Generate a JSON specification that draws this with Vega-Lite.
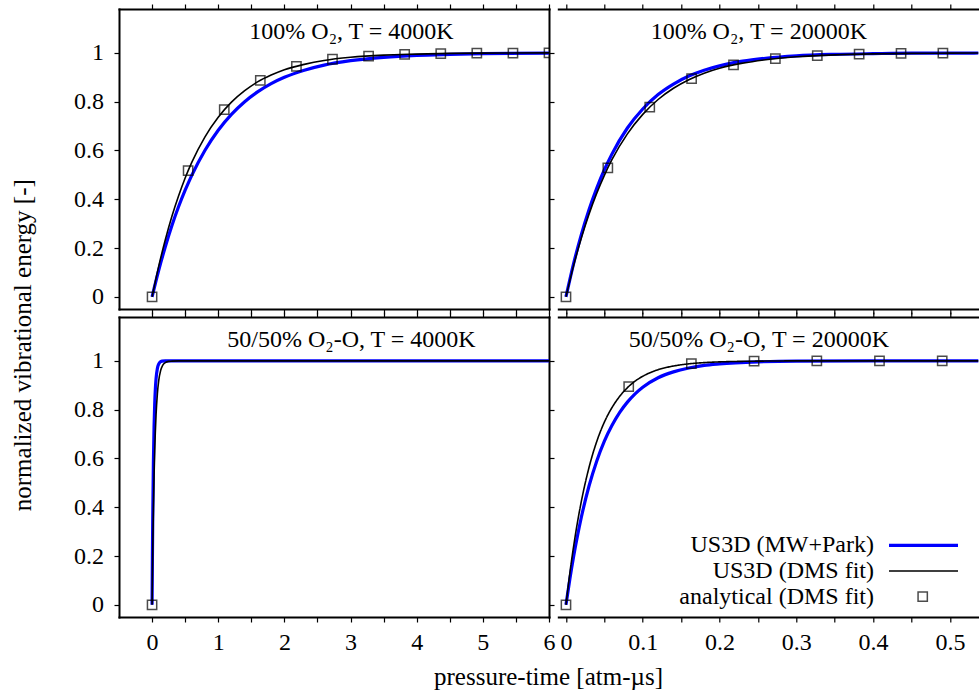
{
  "$schema": "https://vega.github.io/schema/vega-lite/v6.json",
  "background": "white",
  "padding": {"left": 10, "top": 3, "right": 0, "bottom": 0},
  "autosize": {"type": "pad"},
  "config": {
    "font": "Liberation Serif",
    "view": {"stroke": null},
    "axis": {
      "grid": false,
      "domainColor": "black",
      "domainWidth": 2,
      "domainCap": "square",
      "tickColor": "black",
      "tickWidth": 1.2,
      "tickSize": 5,
      "labelFont": "Liberation Serif",
      "labelFontSize": 24,
      "labelColor": "black",
      "labelFlush": false,
      "labelOverlap": false,
      "titleFont": "Liberation Serif",
      "titleFontSize": 25,
      "titleFontWeight": "normal",
      "titleColor": "black"
    },
    "legend": {"labelFont": "Liberation Serif", "labelFontSize": 24, "labelColor": "black", "labelLimit": 400, "padding": 0, "title": null}
  },
  "datasets": {
    "curves": [
      {"panel": "a", "series": "US3D (MW+Park)", "t": 0, "e": 0},
      {"panel": "a", "series": "US3D (MW+Park)", "t": 0.1, "e": 0.109},
      {"panel": "a", "series": "US3D (MW+Park)", "t": 0.2, "e": 0.205},
      {"panel": "a", "series": "US3D (MW+Park)", "t": 0.3, "e": 0.292},
      {"panel": "a", "series": "US3D (MW+Park)", "t": 0.4, "e": 0.369},
      {"panel": "a", "series": "US3D (MW+Park)", "t": 0.5, "e": 0.437},
      {"panel": "a", "series": "US3D (MW+Park)", "t": 0.6, "e": 0.498},
      {"panel": "a", "series": "US3D (MW+Park)", "t": 0.8, "e": 0.601},
      {"panel": "a", "series": "US3D (MW+Park)", "t": 1.0, "e": 0.683},
      {"panel": "a", "series": "US3D (MW+Park)", "t": 1.2, "e": 0.748},
      {"panel": "a", "series": "US3D (MW+Park)", "t": 1.4, "e": 0.800},
      {"panel": "a", "series": "US3D (MW+Park)", "t": 1.6, "e": 0.841},
      {"panel": "a", "series": "US3D (MW+Park)", "t": 1.8, "e": 0.874},
      {"panel": "a", "series": "US3D (MW+Park)", "t": 2.0, "e": 0.900},
      {"panel": "a", "series": "US3D (MW+Park)", "t": 2.3, "e": 0.929},
      {"panel": "a", "series": "US3D (MW+Park)", "t": 2.6, "e": 0.950},
      {"panel": "a", "series": "US3D (MW+Park)", "t": 3.0, "e": 0.968},
      {"panel": "a", "series": "US3D (MW+Park)", "t": 3.5, "e": 0.982},
      {"panel": "a", "series": "US3D (MW+Park)", "t": 4.0, "e": 0.990},
      {"panel": "a", "series": "US3D (MW+Park)", "t": 4.5, "e": 0.994},
      {"panel": "a", "series": "US3D (MW+Park)", "t": 5.0, "e": 0.997},
      {"panel": "a", "series": "US3D (MW+Park)", "t": 6.0, "e": 0.999},
      {"panel": "a", "series": "US3D (DMS fit)", "t": 0, "e": 0},
      {"panel": "a", "series": "US3D (DMS fit)", "t": 0.1, "e": 0.125},
      {"panel": "a", "series": "US3D (DMS fit)", "t": 0.2, "e": 0.234},
      {"panel": "a", "series": "US3D (DMS fit)", "t": 0.3, "e": 0.330},
      {"panel": "a", "series": "US3D (DMS fit)", "t": 0.4, "e": 0.413},
      {"panel": "a", "series": "US3D (DMS fit)", "t": 0.5, "e": 0.487},
      {"panel": "a", "series": "US3D (DMS fit)", "t": 0.6, "e": 0.551},
      {"panel": "a", "series": "US3D (DMS fit)", "t": 0.8, "e": 0.656},
      {"panel": "a", "series": "US3D (DMS fit)", "t": 1.0, "e": 0.736},
      {"panel": "a", "series": "US3D (DMS fit)", "t": 1.2, "e": 0.798},
      {"panel": "a", "series": "US3D (DMS fit)", "t": 1.4, "e": 0.845},
      {"panel": "a", "series": "US3D (DMS fit)", "t": 1.6, "e": 0.882},
      {"panel": "a", "series": "US3D (DMS fit)", "t": 1.8, "e": 0.909},
      {"panel": "a", "series": "US3D (DMS fit)", "t": 2.0, "e": 0.931},
      {"panel": "a", "series": "US3D (DMS fit)", "t": 2.3, "e": 0.953},
      {"panel": "a", "series": "US3D (DMS fit)", "t": 2.6, "e": 0.969},
      {"panel": "a", "series": "US3D (DMS fit)", "t": 3.0, "e": 0.982},
      {"panel": "a", "series": "US3D (DMS fit)", "t": 3.5, "e": 0.991},
      {"panel": "a", "series": "US3D (DMS fit)", "t": 4.0, "e": 0.995},
      {"panel": "a", "series": "US3D (DMS fit)", "t": 4.5, "e": 0.998},
      {"panel": "a", "series": "US3D (DMS fit)", "t": 5.0, "e": 0.999},
      {"panel": "a", "series": "US3D (DMS fit)", "t": 6.0, "e": 1.000},
      {"panel": "a", "series": "analytical (DMS fit)", "t": 0, "e": 0},
      {"panel": "a", "series": "analytical (DMS fit)", "t": 0.545, "e": 0.517},
      {"panel": "a", "series": "analytical (DMS fit)", "t": 1.091, "e": 0.767},
      {"panel": "a", "series": "analytical (DMS fit)", "t": 1.636, "e": 0.887},
      {"panel": "a", "series": "analytical (DMS fit)", "t": 2.182, "e": 0.945},
      {"panel": "a", "series": "analytical (DMS fit)", "t": 2.727, "e": 0.974},
      {"panel": "a", "series": "analytical (DMS fit)", "t": 3.273, "e": 0.987},
      {"panel": "a", "series": "analytical (DMS fit)", "t": 3.818, "e": 0.994},
      {"panel": "a", "series": "analytical (DMS fit)", "t": 4.364, "e": 0.997},
      {"panel": "a", "series": "analytical (DMS fit)", "t": 4.909, "e": 0.999},
      {"panel": "a", "series": "analytical (DMS fit)", "t": 5.455, "e": 0.999},
      {"panel": "a", "series": "analytical (DMS fit)", "t": 6.0, "e": 1.000},

      {"panel": "b", "series": "US3D (MW+Park)", "t": 0, "e": 0},
      {"panel": "b", "series": "US3D (MW+Park)", "t": 0.01, "e": 0.137},
      {"panel": "b", "series": "US3D (MW+Park)", "t": 0.02, "e": 0.255},
      {"panel": "b", "series": "US3D (MW+Park)", "t": 0.03, "e": 0.357},
      {"panel": "b", "series": "US3D (MW+Park)", "t": 0.04, "e": 0.445},
      {"panel": "b", "series": "US3D (MW+Park)", "t": 0.05, "e": 0.521},
      {"panel": "b", "series": "US3D (MW+Park)", "t": 0.06, "e": 0.586},
      {"panel": "b", "series": "US3D (MW+Park)", "t": 0.08, "e": 0.692},
      {"panel": "b", "series": "US3D (MW+Park)", "t": 0.10, "e": 0.770},
      {"panel": "b", "series": "US3D (MW+Park)", "t": 0.12, "e": 0.829},
      {"panel": "b", "series": "US3D (MW+Park)", "t": 0.14, "e": 0.872},
      {"panel": "b", "series": "US3D (MW+Park)", "t": 0.16, "e": 0.905},
      {"panel": "b", "series": "US3D (MW+Park)", "t": 0.18, "e": 0.929},
      {"panel": "b", "series": "US3D (MW+Park)", "t": 0.20, "e": 0.947},
      {"panel": "b", "series": "US3D (MW+Park)", "t": 0.23, "e": 0.966},
      {"panel": "b", "series": "US3D (MW+Park)", "t": 0.26, "e": 0.978},
      {"panel": "b", "series": "US3D (MW+Park)", "t": 0.30, "e": 0.988},
      {"panel": "b", "series": "US3D (MW+Park)", "t": 0.35, "e": 0.994},
      {"panel": "b", "series": "US3D (MW+Park)", "t": 0.40, "e": 0.997},
      {"panel": "b", "series": "US3D (MW+Park)", "t": 0.45, "e": 0.999},
      {"panel": "b", "series": "US3D (MW+Park)", "t": 0.50, "e": 0.999},
      {"panel": "b", "series": "US3D (MW+Park)", "t": 0.55, "e": 1.000},
      {"panel": "b", "series": "US3D (DMS fit)", "t": 0, "e": 0},
      {"panel": "b", "series": "US3D (DMS fit)", "t": 0.01, "e": 0.129},
      {"panel": "b", "series": "US3D (DMS fit)", "t": 0.02, "e": 0.241},
      {"panel": "b", "series": "US3D (DMS fit)", "t": 0.03, "e": 0.339},
      {"panel": "b", "series": "US3D (DMS fit)", "t": 0.04, "e": 0.424},
      {"panel": "b", "series": "US3D (DMS fit)", "t": 0.05, "e": 0.498},
      {"panel": "b", "series": "US3D (DMS fit)", "t": 0.06, "e": 0.563},
      {"panel": "b", "series": "US3D (DMS fit)", "t": 0.08, "e": 0.668},
      {"panel": "b", "series": "US3D (DMS fit)", "t": 0.10, "e": 0.748},
      {"panel": "b", "series": "US3D (DMS fit)", "t": 0.12, "e": 0.809},
      {"panel": "b", "series": "US3D (DMS fit)", "t": 0.14, "e": 0.855},
      {"panel": "b", "series": "US3D (DMS fit)", "t": 0.16, "e": 0.890},
      {"panel": "b", "series": "US3D (DMS fit)", "t": 0.18, "e": 0.917},
      {"panel": "b", "series": "US3D (DMS fit)", "t": 0.20, "e": 0.937},
      {"panel": "b", "series": "US3D (DMS fit)", "t": 0.23, "e": 0.958},
      {"panel": "b", "series": "US3D (DMS fit)", "t": 0.26, "e": 0.972},
      {"panel": "b", "series": "US3D (DMS fit)", "t": 0.30, "e": 0.984},
      {"panel": "b", "series": "US3D (DMS fit)", "t": 0.35, "e": 0.992},
      {"panel": "b", "series": "US3D (DMS fit)", "t": 0.40, "e": 0.996},
      {"panel": "b", "series": "US3D (DMS fit)", "t": 0.45, "e": 0.998},
      {"panel": "b", "series": "US3D (DMS fit)", "t": 0.50, "e": 0.999},
      {"panel": "b", "series": "US3D (DMS fit)", "t": 0.55, "e": 1.000},
      {"panel": "b", "series": "analytical (DMS fit)", "t": 0, "e": 0},
      {"panel": "b", "series": "analytical (DMS fit)", "t": 0.0545, "e": 0.529},
      {"panel": "b", "series": "analytical (DMS fit)", "t": 0.1091, "e": 0.778},
      {"panel": "b", "series": "analytical (DMS fit)", "t": 0.1636, "e": 0.895},
      {"panel": "b", "series": "analytical (DMS fit)", "t": 0.2182, "e": 0.951},
      {"panel": "b", "series": "analytical (DMS fit)", "t": 0.2727, "e": 0.977},
      {"panel": "b", "series": "analytical (DMS fit)", "t": 0.3273, "e": 0.989},
      {"panel": "b", "series": "analytical (DMS fit)", "t": 0.3818, "e": 0.995},
      {"panel": "b", "series": "analytical (DMS fit)", "t": 0.4364, "e": 0.998},
      {"panel": "b", "series": "analytical (DMS fit)", "t": 0.4909, "e": 0.999},

      {"panel": "c", "series": "US3D (MW+Park)", "t": 0, "e": 0},
      {"panel": "c", "series": "US3D (MW+Park)", "t": 0.005, "e": 0.195},
      {"panel": "c", "series": "US3D (MW+Park)", "t": 0.01, "e": 0.353},
      {"panel": "c", "series": "US3D (MW+Park)", "t": 0.02, "e": 0.581},
      {"panel": "c", "series": "US3D (MW+Park)", "t": 0.03, "e": 0.729},
      {"panel": "c", "series": "US3D (MW+Park)", "t": 0.04, "e": 0.824},
      {"panel": "c", "series": "US3D (MW+Park)", "t": 0.05, "e": 0.886},
      {"panel": "c", "series": "US3D (MW+Park)", "t": 0.06, "e": 0.926},
      {"panel": "c", "series": "US3D (MW+Park)", "t": 0.08, "e": 0.969},
      {"panel": "c", "series": "US3D (MW+Park)", "t": 0.10, "e": 0.987},
      {"panel": "c", "series": "US3D (MW+Park)", "t": 0.12, "e": 0.995},
      {"panel": "c", "series": "US3D (MW+Park)", "t": 0.15, "e": 0.999},
      {"panel": "c", "series": "US3D (MW+Park)", "t": 0.20, "e": 1.000},
      {"panel": "c", "series": "US3D (MW+Park)", "t": 1.0, "e": 1.000},
      {"panel": "c", "series": "US3D (MW+Park)", "t": 6.0, "e": 1.000},
      {"panel": "c", "series": "US3D (DMS fit)", "t": 0, "e": 0},
      {"panel": "c", "series": "US3D (DMS fit)", "t": 0.005, "e": 0.118},
      {"panel": "c", "series": "US3D (DMS fit)", "t": 0.01, "e": 0.221},
      {"panel": "c", "series": "US3D (DMS fit)", "t": 0.02, "e": 0.393},
      {"panel": "c", "series": "US3D (DMS fit)", "t": 0.03, "e": 0.528},
      {"panel": "c", "series": "US3D (DMS fit)", "t": 0.04, "e": 0.632},
      {"panel": "c", "series": "US3D (DMS fit)", "t": 0.06, "e": 0.777},
      {"panel": "c", "series": "US3D (DMS fit)", "t": 0.08, "e": 0.865},
      {"panel": "c", "series": "US3D (DMS fit)", "t": 0.10, "e": 0.918},
      {"panel": "c", "series": "US3D (DMS fit)", "t": 0.13, "e": 0.961},
      {"panel": "c", "series": "US3D (DMS fit)", "t": 0.16, "e": 0.982},
      {"panel": "c", "series": "US3D (DMS fit)", "t": 0.20, "e": 0.993},
      {"panel": "c", "series": "US3D (DMS fit)", "t": 0.25, "e": 0.998},
      {"panel": "c", "series": "US3D (DMS fit)", "t": 0.30, "e": 0.999},
      {"panel": "c", "series": "US3D (DMS fit)", "t": 0.40, "e": 1.000},
      {"panel": "c", "series": "US3D (DMS fit)", "t": 1.0, "e": 1.000},
      {"panel": "c", "series": "US3D (DMS fit)", "t": 6.0, "e": 1.000},
      {"panel": "c", "series": "analytical (DMS fit)", "t": 0, "e": 0},

      {"panel": "d", "series": "US3D (MW+Park)", "t": 0, "e": 0},
      {"panel": "d", "series": "US3D (MW+Park)", "t": 0.005, "e": 0.105},
      {"panel": "d", "series": "US3D (MW+Park)", "t": 0.01, "e": 0.199},
      {"panel": "d", "series": "US3D (MW+Park)", "t": 0.015, "e": 0.283},
      {"panel": "d", "series": "US3D (MW+Park)", "t": 0.02, "e": 0.359},
      {"panel": "d", "series": "US3D (MW+Park)", "t": 0.03, "e": 0.487},
      {"panel": "d", "series": "US3D (MW+Park)", "t": 0.04, "e": 0.589},
      {"panel": "d", "series": "US3D (MW+Park)", "t": 0.05, "e": 0.671},
      {"panel": "d", "series": "US3D (MW+Park)", "t": 0.06, "e": 0.736},
      {"panel": "d", "series": "US3D (MW+Park)", "t": 0.07, "e": 0.789},
      {"panel": "d", "series": "US3D (MW+Park)", "t": 0.08, "e": 0.831},
      {"panel": "d", "series": "US3D (MW+Park)", "t": 0.09, "e": 0.865},
      {"panel": "d", "series": "US3D (MW+Park)", "t": 0.10, "e": 0.892},
      {"panel": "d", "series": "US3D (MW+Park)", "t": 0.12, "e": 0.931},
      {"panel": "d", "series": "US3D (MW+Park)", "t": 0.14, "e": 0.955},
      {"panel": "d", "series": "US3D (MW+Park)", "t": 0.16, "e": 0.971},
      {"panel": "d", "series": "US3D (MW+Park)", "t": 0.18, "e": 0.982},
      {"panel": "d", "series": "US3D (MW+Park)", "t": 0.20, "e": 0.988},
      {"panel": "d", "series": "US3D (MW+Park)", "t": 0.25, "e": 0.996},
      {"panel": "d", "series": "US3D (MW+Park)", "t": 0.30, "e": 0.999},
      {"panel": "d", "series": "US3D (MW+Park)", "t": 0.40, "e": 1.000},
      {"panel": "d", "series": "US3D (MW+Park)", "t": 0.55, "e": 1.000},
      {"panel": "d", "series": "US3D (DMS fit)", "t": 0, "e": 0},
      {"panel": "d", "series": "US3D (DMS fit)", "t": 0.005, "e": 0.129},
      {"panel": "d", "series": "US3D (DMS fit)", "t": 0.01, "e": 0.241},
      {"panel": "d", "series": "US3D (DMS fit)", "t": 0.015, "e": 0.339},
      {"panel": "d", "series": "US3D (DMS fit)", "t": 0.02, "e": 0.424},
      {"panel": "d", "series": "US3D (DMS fit)", "t": 0.03, "e": 0.563},
      {"panel": "d", "series": "US3D (DMS fit)", "t": 0.04, "e": 0.669},
      {"panel": "d", "series": "US3D (DMS fit)", "t": 0.05, "e": 0.749},
      {"panel": "d", "series": "US3D (DMS fit)", "t": 0.06, "e": 0.809},
      {"panel": "d", "series": "US3D (DMS fit)", "t": 0.07, "e": 0.855},
      {"panel": "d", "series": "US3D (DMS fit)", "t": 0.08, "e": 0.890},
      {"panel": "d", "series": "US3D (DMS fit)", "t": 0.09, "e": 0.917},
      {"panel": "d", "series": "US3D (DMS fit)", "t": 0.10, "e": 0.937},
      {"panel": "d", "series": "US3D (DMS fit)", "t": 0.12, "e": 0.964},
      {"panel": "d", "series": "US3D (DMS fit)", "t": 0.14, "e": 0.979},
      {"panel": "d", "series": "US3D (DMS fit)", "t": 0.16, "e": 0.988},
      {"panel": "d", "series": "US3D (DMS fit)", "t": 0.18, "e": 0.993},
      {"panel": "d", "series": "US3D (DMS fit)", "t": 0.20, "e": 0.996},
      {"panel": "d", "series": "US3D (DMS fit)", "t": 0.25, "e": 0.999},
      {"panel": "d", "series": "US3D (DMS fit)", "t": 0.30, "e": 1.000},
      {"panel": "d", "series": "US3D (DMS fit)", "t": 0.55, "e": 1.000},
      {"panel": "d", "series": "analytical (DMS fit)", "t": 0, "e": 0},
      {"panel": "d", "series": "analytical (DMS fit)", "t": 0.0817, "e": 0.895},
      {"panel": "d", "series": "analytical (DMS fit)", "t": 0.1633, "e": 0.989},
      {"panel": "d", "series": "analytical (DMS fit)", "t": 0.245, "e": 0.999},
      {"panel": "d", "series": "analytical (DMS fit)", "t": 0.3267, "e": 1.000},
      {"panel": "d", "series": "analytical (DMS fit)", "t": 0.4083, "e": 1.000},
      {"panel": "d", "series": "analytical (DMS fit)", "t": 0.49, "e": 1.000}
    ]
  },
  "columns": 2,
  "spacing": {"row": 8, "column": 9.3},
  "bounds": "flush",
  "resolve": {
    "scale": {"color": "independent", "strokeDash": "independent", "shape": "independent"},
    "legend": {"color": "independent", "strokeDash": "independent", "shape": "independent"}
  },
  "concat": [
    {
      "width": 430,
      "height": 300,
      "layer": [
        {
          "data": {"name": "curves"},
          "transform": [{"filter": "datum.panel === 'a' && datum.series === 'US3D (MW+Park)'"}],
          "mark": {"type": "line", "color": "#0000ff", "strokeWidth": 3.2, "interpolate": "monotone", "clip": true},
          "encoding": {
            "x": {"field": "t", "type": "quantitative", "scale": {"domain": [-0.5, 6], "nice": false, "zero": false},
              "axis": {"orient": "bottom", "values": [0, 0.5, 1, 1.5, 2, 2.5, 3, 3.5, 4, 4.5, 5, 5.5, 6], "labels": false, "title": null,
                "encode": {"ticks": {"y2": {"condition": {"test": "datum.value == round(datum.value)", "value": -8}, "value": -4}}}}},
            "y": {"field": "e", "type": "quantitative", "scale": {"domain": [-0.05, 1.18], "nice": false, "zero": false},
              "axis": {"orient": "left", "values": [0, 0.2, 0.4, 0.6, 0.8, 1], "format": "~g", "labelPadding": 10.4,
                "title": "normalized vibrational energy [-]", "titleX": -88.3, "titleY": 335.7, "titleAngle": 270, "titleAlign": "center", "titleBaseline": "alphabetic",
                "encode": {"ticks": {"x2": {"value": 8}}}}}
          }
        },
        {
          "data": {"name": "curves"},
          "transform": [{"filter": "datum.panel === 'a' && datum.series === 'US3D (DMS fit)'"}],
          "mark": {"type": "line", "color": "black", "strokeWidth": 1.6, "interpolate": "monotone", "clip": true},
          "encoding": {
            "x": {"field": "t", "type": "quantitative", "scale": {"domain": [-0.5, 6], "nice": false, "zero": false},
              "axis": {"orient": "top", "values": [0, 0.5, 1, 1.5, 2, 2.5, 3, 3.5, 4, 4.5, 5, 5.5, 6], "labels": false,
                "title": "100% O₂, T = 4000K", "titleX": 232, "titleY": 29, "titleAngle": 0, "titleAlign": "center", "titleBaseline": "alphabetic", "titleFontSize": 24,
                "encode": {"ticks": {"y2": {"condition": {"test": "datum.value == round(datum.value)", "value": 8}, "value": 4}}}}},
            "y": {"field": "e", "type": "quantitative", "scale": {"domain": [-0.05, 1.18], "nice": false, "zero": false},
              "axis": {"orient": "right", "values": [0, 0.2, 0.4, 0.6, 0.8, 1], "labels": false, "title": null,
                "encode": {"ticks": {"x2": {"value": -8}}}}}
          }
        },
        {
          "data": {"name": "curves"},
          "transform": [{"filter": "datum.panel === 'a' && datum.series === 'analytical (DMS fit)'"}],
          "mark": {"type": "point", "shape": "square", "filled": false, "size": 86, "strokeWidth": 1.5, "color": "black", "clip": true},
          "encoding": {
            "x": {"field": "t", "type": "quantitative", "axis": null},
            "y": {"field": "e", "type": "quantitative", "axis": null}
          }
        }
      ]
    },
    {
      "width": 420,
      "height": 300,
      "layer": [
        {
          "data": {"name": "curves"},
          "transform": [{"filter": "datum.panel === 'b' && datum.series === 'US3D (MW+Park)'"}],
          "mark": {"type": "line", "color": "#0000ff", "strokeWidth": 3.2, "interpolate": "monotone", "clip": true},
          "encoding": {
            "x": {"field": "t", "type": "quantitative", "scale": {"domain": [-0.01, 0.537], "nice": false, "zero": false},
              "axis": {"orient": "bottom", "values": [0, 0.05, 0.1, 0.15, 0.2, 0.25, 0.3, 0.35, 0.4, 0.45, 0.5], "labels": false, "title": null,
                "encode": {"ticks": {"y2": {"condition": {"test": "abs(datum.value * 10 - round(datum.value * 10)) < 0.001", "value": -8}, "value": -4}}}}},
            "y": {"field": "e", "type": "quantitative", "scale": {"domain": [-0.05, 1.18], "nice": false, "zero": false},
              "axis": {"orient": "left", "values": [0, 0.2, 0.4, 0.6, 0.8, 1], "labels": false, "title": null,
                "encode": {"ticks": {"x2": {"value": 8}}}}}
          }
        },
        {
          "data": {"name": "curves"},
          "transform": [{"filter": "datum.panel === 'b' && datum.series === 'US3D (DMS fit)'"}],
          "mark": {"type": "line", "color": "black", "strokeWidth": 1.6, "interpolate": "monotone", "clip": true},
          "encoding": {
            "x": {"field": "t", "type": "quantitative", "scale": {"domain": [-0.01, 0.537], "nice": false, "zero": false},
              "axis": {"orient": "top", "values": [0, 0.05, 0.1, 0.15, 0.2, 0.25, 0.3, 0.35, 0.4, 0.45, 0.5], "labels": false,
                "title": "100% O₂, T = 20000K", "titleX": 200, "titleY": 29, "titleAngle": 0, "titleAlign": "center", "titleBaseline": "alphabetic", "titleFontSize": 24,
                "encode": {"ticks": {"y2": {"condition": {"test": "abs(datum.value * 10 - round(datum.value * 10)) < 0.001", "value": 8}, "value": 4}}}}},
            "y": {"field": "e", "type": "quantitative", "scale": {"domain": [-0.05, 1.18], "nice": false, "zero": false}, "axis": null}
          }
        },
        {
          "data": {"name": "curves"},
          "transform": [{"filter": "datum.panel === 'b' && datum.series === 'analytical (DMS fit)'"}],
          "mark": {"type": "point", "shape": "square", "filled": false, "size": 86, "strokeWidth": 1.5, "color": "black", "clip": true},
          "encoding": {
            "x": {"field": "t", "type": "quantitative", "axis": null},
            "y": {"field": "e", "type": "quantitative", "axis": null}
          }
        }
      ]
    },
    {
      "width": 430,
      "height": 300,
      "layer": [
        {
          "data": {"name": "curves"},
          "transform": [{"filter": "datum.panel === 'c' && datum.series === 'US3D (MW+Park)'"}],
          "mark": {"type": "line", "color": "#0000ff", "strokeWidth": 3.2, "interpolate": "monotone", "clip": true},
          "encoding": {
            "x": {"field": "t", "type": "quantitative", "scale": {"domain": [-0.5, 6], "nice": false, "zero": false},
              "axis": {"orient": "bottom", "values": [0, 0.5, 1, 1.5, 2, 2.5, 3, 3.5, 4, 4.5, 5, 5.5, 6], "format": "~g",
                "labelExpr": "datum.value == round(datum.value) ? datum.label : ''", "labelBaseline": "alphabetic", "labelPadding": 27.6,
                "title": "pressure-time [atm-µs]", "titleX": 429, "titleY": 67.3, "titleAngle": 0, "titleAlign": "center", "titleBaseline": "alphabetic",
                "encode": {"ticks": {"y2": {"condition": {"test": "datum.value == round(datum.value)", "value": -8}, "value": -4}}}}},
            "y": {"field": "e", "type": "quantitative", "scale": {"domain": [-0.05, 1.18], "nice": false, "zero": false},
              "axis": {"orient": "left", "values": [0, 0.2, 0.4, 0.6, 0.8, 1], "format": "~g", "labelPadding": 10.4, "title": null,
                "encode": {"ticks": {"x2": {"value": 8}}}}}
          }
        },
        {
          "data": {"name": "curves"},
          "transform": [{"filter": "datum.panel === 'c' && datum.series === 'US3D (DMS fit)'"}],
          "mark": {"type": "line", "color": "black", "strokeWidth": 1.6, "interpolate": "monotone", "clip": true},
          "encoding": {
            "x": {"field": "t", "type": "quantitative", "scale": {"domain": [-0.5, 6], "nice": false, "zero": false},
              "axis": {"orient": "top", "values": [0, 0.5, 1, 1.5, 2, 2.5, 3, 3.5, 4, 4.5, 5, 5.5, 6], "labels": false,
                "title": "50/50% O₂-O, T = 4000K", "titleX": 232, "titleY": 29, "titleAngle": 0, "titleAlign": "center", "titleBaseline": "alphabetic", "titleFontSize": 24,
                "encode": {"ticks": {"y2": {"condition": {"test": "datum.value == round(datum.value)", "value": 8}, "value": 4}}}}},
            "y": {"field": "e", "type": "quantitative", "scale": {"domain": [-0.05, 1.18], "nice": false, "zero": false},
              "axis": {"orient": "right", "values": [0, 0.2, 0.4, 0.6, 0.8, 1], "labels": false, "title": null,
                "encode": {"ticks": {"x2": {"value": -8}}}}}
          }
        },
        {
          "data": {"name": "curves"},
          "transform": [{"filter": "datum.panel === 'c' && datum.series === 'analytical (DMS fit)'"}],
          "mark": {"type": "point", "shape": "square", "filled": false, "size": 86, "strokeWidth": 1.5, "color": "black", "clip": true},
          "encoding": {
            "x": {"field": "t", "type": "quantitative", "axis": null},
            "y": {"field": "e", "type": "quantitative", "axis": null}
          }
        }
      ]
    },
    {
      "width": 420,
      "height": 300,
      "layer": [
        {
          "data": {"name": "curves"},
          "transform": [{"filter": "datum.panel === 'd' && datum.series === 'US3D (MW+Park)'"}],
          "mark": {"type": "line", "strokeWidth": 3.2, "interpolate": "monotone", "clip": true},
          "encoding": {
            "x": {"field": "t", "type": "quantitative", "scale": {"domain": [-0.01, 0.537], "nice": false, "zero": false},
              "axis": {"orient": "bottom", "values": [0, 0.05, 0.1, 0.15, 0.2, 0.25, 0.3, 0.35, 0.4, 0.45, 0.5], "format": "~g",
                "labelExpr": "abs(datum.value * 10 - round(datum.value * 10)) < 0.001 ? datum.label : ''", "labelBaseline": "alphabetic", "labelPadding": 27.6, "title": null,
                "encode": {"ticks": {"y2": {"condition": {"test": "abs(datum.value * 10 - round(datum.value * 10)) < 0.001", "value": -8}, "value": -4}}}}},
            "y": {"field": "e", "type": "quantitative", "scale": {"domain": [-0.05, 1.18], "nice": false, "zero": false},
              "axis": {"orient": "left", "values": [0, 0.2, 0.4, 0.6, 0.8, 1], "labels": false, "title": null,
                "encode": {"ticks": {"x2": {"value": 8}}}}},
            "color": {
              "field": "series", "type": "nominal",
              "scale": {"domain": ["US3D (MW+Park)"], "range": ["#0000ff"]},
              "legend": {
                "orient": "none", "legendX": 328.7, "legendY": 191.8, "direction": "vertical",
                "symbolSize": 4761, "symbolType": "stroke", "symbolStrokeWidth": 3.2,
                "labelAlign": "right", "labelOffset": -86
              }
            }
          }
        },
        {
          "data": {"name": "curves"},
          "transform": [{"filter": "datum.panel === 'd' && datum.series === 'US3D (DMS fit)'"}],
          "mark": {"type": "line", "color": "black", "strokeWidth": 1.6, "interpolate": "monotone", "clip": true},
          "encoding": {
            "x": {"field": "t", "type": "quantitative", "scale": {"domain": [-0.01, 0.537], "nice": false, "zero": false},
              "axis": {"orient": "top", "values": [0, 0.05, 0.1, 0.15, 0.2, 0.25, 0.3, 0.35, 0.4, 0.45, 0.5], "labels": false,
                "title": "50/50% O₂-O, T = 20000K", "titleX": 200, "titleY": 29, "titleAngle": 0, "titleAlign": "center", "titleBaseline": "alphabetic", "titleFontSize": 24,
                "encode": {"ticks": {"y2": {"condition": {"test": "abs(datum.value * 10 - round(datum.value * 10)) < 0.001", "value": 8}, "value": 4}}}}},
            "y": {"field": "e", "type": "quantitative", "scale": {"domain": [-0.05, 1.18], "nice": false, "zero": false}, "axis": null},
            "strokeDash": {
              "field": "series", "type": "nominal",
              "scale": {"domain": ["US3D (DMS fit)"], "range": [[1, 0]]},
              "legend": {
                "orient": "none", "legendX": 329.7, "legendY": 218.5, "direction": "vertical",
                "symbolSize": 4761, "symbolType": "stroke", "symbolStrokeWidth": 1.6, "symbolStrokeColor": "black",
                "labelAlign": "right", "labelOffset": -85
              }
            }
          }
        },
        {
          "data": {"name": "curves"},
          "transform": [{"filter": "datum.panel === 'd' && datum.series === 'analytical (DMS fit)'"}],
          "mark": {"type": "point", "filled": false, "size": 86, "strokeWidth": 1.5, "color": "black", "clip": true},
          "encoding": {
            "x": {"field": "t", "type": "quantitative", "axis": null},
            "y": {"field": "e", "type": "quantitative", "axis": null},
            "shape": {
              "field": "series", "type": "nominal",
              "scale": {"domain": ["analytical (DMS fit)"], "range": ["square"]},
              "legend": {
                "orient": "none", "legendX": 352.4, "legendY": 267.6, "direction": "vertical",
                "symbolSize": 86, "symbolStrokeWidth": 1.5, "symbolStrokeColor": "black", "symbolFillColor": "transparent",
                "labelAlign": "right", "labelOffset": -60.7
              }
            }
          }
        }
      ]
    }
  ]
}
